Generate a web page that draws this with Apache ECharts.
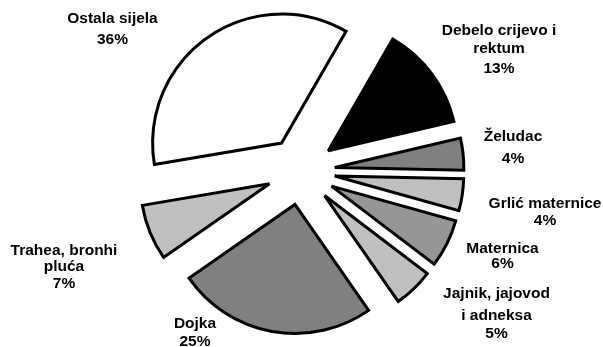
<!DOCTYPE html>
<html>
<head>
<meta charset="utf-8">
<script src="https://cdn.jsdelivr.net/npm/echarts@6/dist/echarts.min.js"></script>
<style>
html,body{margin:0;padding:0;background:#fff;}
#chart{width:603px;height:347px;}
</style>
</head>
<body>
<div id="chart"></div>
<script>
// Data
var categories = ["Debelo crijevo i\nrektum", "Želudac", "Grlić maternice", "Maternica", "Jajnik, jajovod\ni adneksa", "Dojka", "Trahea, bronhi\npluća", "Ostala sijela"];
var values = [13, 4, 4, 6, 5, 25, 7, 36];

// Styles / label layout (not data)
var fillColors = ["#000000", "#808080", "#c0c0c0", "#969696", "#c0c0c0", "#808080", "#c0c0c0", "#ffffff"];
var labelAnchors = [[499, 31], [513, 137], [545, 203.5], [502.5, 249], [496.5, 293.5], [195, 323.5], [64, 251], [112.5, 18.5]];
var labelGaps = [[17.3, 20], [21.7], [17.7], [15], [22, 18], [18.4], [15.3, 17.3], [21]];
var labelFont = 'bold 15.5px "Liberation Sans", Arial, sans-serif';

var chart = echarts.init(document.getElementById('chart'), null, {renderer: 'canvas'});
var data = categories.map(function (c, i) {
  return {
    name: c,
    value: values[i],
    selected: true,
    itemStyle: {color: fillColors[i]}
  };
});

// Labels as text built from the data arrays
var graphics = [];
categories.forEach(function (c, i) {
  var lines = c.split('\n').concat([values[i] + '%']);
  var y = labelAnchors[i][1];
  lines.forEach(function (t, k) {
    if (k > 0) y += labelGaps[i][k - 1];
    graphics.push({
      type: 'text',
      silent: true,
      style: {
        text: t,
        x: labelAnchors[i][0],
        y: y,
        fill: '#000',
        font: labelFont,
        textAlign: 'center',
        textVerticalAlign: 'middle',
        align: 'center',
        verticalAlign: 'middle'
      }
    });
  });
});

chart.setOption({
  animation: false,
  backgroundColor: '#ffffff',
  graphic: graphics,
  series: [{
    type: 'pie',
    silent: true,
    center: [301, 171],
    radius: [0, 129],
    startAngle: 60,
    clockwise: true,
    selectedMode: 'multiple',
    selectedOffset: 34,
    avoidLabelOverlap: false,
    emphasis: {disabled: true},
    itemStyle: {borderColor: '#000', borderWidth: 3, borderJoin: 'miter', borderMiterLimit: 2},
    select: {itemStyle: {borderColor: '#000', borderWidth: 3}},
    label: {show: false},
    labelLine: {show: false},
    data: data
  }]
});
</script>
</body>
</html>
